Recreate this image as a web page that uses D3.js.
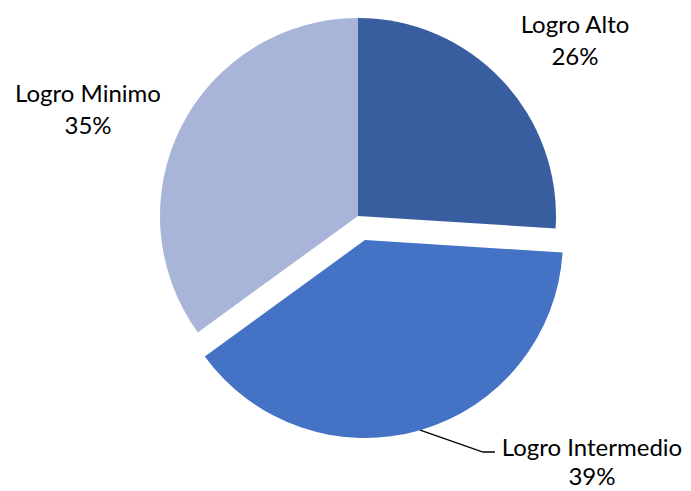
<!DOCTYPE html>
<html>
<head>
<meta charset="utf-8">
<script src="https://cdn.jsdelivr.net/npm/d3@7"></script>
<style>
  html, body { margin: 0; padding: 0; background: #fff; }
  svg { display: block; }
  text { font-family: Lato, "Open Sans", sans-serif; fill: #000; }
</style>
</head>
<body>
<svg id="chart" width="691" height="491"></svg>
<script>
// Achievement levels and their shares (percent)
const categories = ["Logro Alto", "Logro Intermedio", "Logro Minimo"];
const values = [26, 39, 35];
const colors = ["#385EA0", "#4472C4", "#A8B5D9"];
const exploded = ["Logro Intermedio"];

const width = 691, height = 491;
const cx = 358, cy = 216, radius = 198, explodeDist = 25;

const svg = d3.select("#chart");
const g = svg.append("g").attr("transform", `translate(${cx},${cy})`);

const data = categories.map((c, i) => ({ name: c, value: values[i], color: colors[i] }));
const total = d3.sum(values);

const pie = d3.pie().sort(null).value(d => d.value).startAngle(0).endAngle(2 * Math.PI);
const arc = d3.arc().innerRadius(0).outerRadius(radius);
const arcs = pie(data);

function offsetOf(a) {
  if (!exploded.includes(a.data.name)) return [0, 0];
  const mid = (a.startAngle + a.endAngle) / 2;
  return [explodeDist * Math.sin(mid), -explodeDist * Math.cos(mid)];
}

g.selectAll("path.slice")
  .data(arcs)
  .join("path")
  .attr("class", "slice")
  .attr("transform", d => `translate(${offsetOf(d)})`)
  .attr("d", arc)
  .attr("fill", d => d.data.color);

// Label placement (text centre, relative to pie centre) and first baseline
const labelPos = {
  "Logro Alto":       { x: 217,  y: -183, gap: 32 },
  "Logro Minimo":     { x: -270, y: -114, gap: 32 },
  "Logro Intermedio": { x: 234,  y: 240,  gap: 29 }
};
const fmt = v => Math.round(v / total * 100) + "%";

const labels = g.selectAll("text.lbl")
  .data(arcs)
  .join("text")
  .attr("class", "lbl")
  .attr("text-anchor", "middle")
  .attr("font-size", 24)
  .attr("x", d => labelPos[d.data.name].x)
  .attr("y", d => labelPos[d.data.name].y);
labels.append("tspan")
  .attr("x", d => labelPos[d.data.name].x)
  .text(d => d.data.name);
labels.append("tspan")
  .attr("x", d => labelPos[d.data.name].x)
  .attr("dy", d => labelPos[d.data.name].gap)
  .text(d => fmt(d.data.value));

// Leader line for the detached slice: from its rim at mid-angle to the label
arcs.filter(d => exploded.includes(d.data.name)).forEach(d => {
  const [ox, oy] = offsetOf(d);
  const mid = (d.startAngle + d.endAngle) / 2;
  const sx = ox + radius * Math.sin(mid), sy = oy - radius * Math.cos(mid);
  const lp = labelPos[d.data.name];
  const ey = lp.y - 4;
  const hx = lp.x - 97, kx = lp.x - 109;
  g.append("path")
    .attr("d", d3.line()([[sx, sy], [kx, ey], [hx, ey]]))
    .attr("fill", "none")
    .attr("stroke", "#000")
    .attr("stroke-width", 1.3);
});
</script>
</body>
</html>
